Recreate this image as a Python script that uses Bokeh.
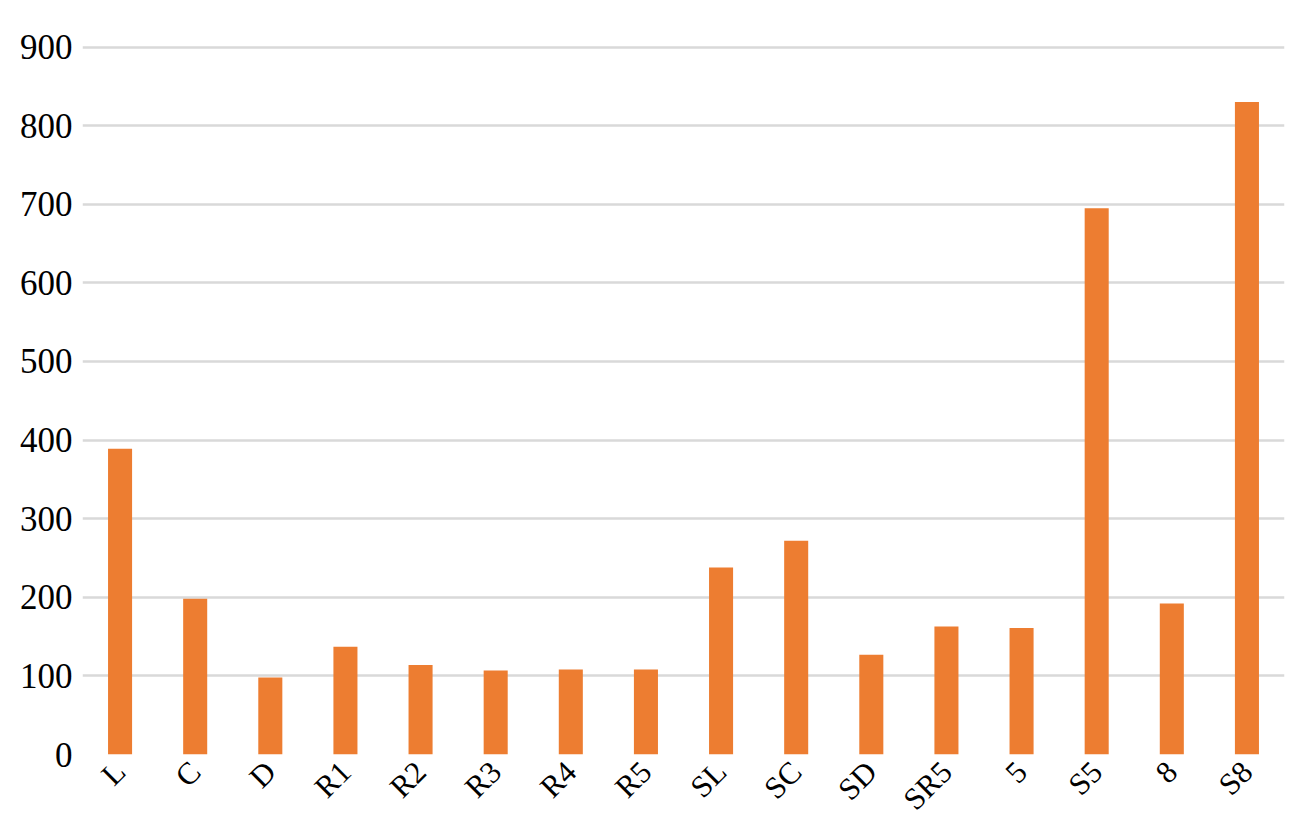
import math
from bokeh.plotting import figure
from bokeh.models import ColumnDataSource, FixedTicker, Range1d
from bokeh.embed import file_html
from bokeh.resources import INLINE

categories = ["L", "C", "D", "R1", "R2", "R3", "R4", "R5", "SL", "SC", "SD", "SR5", "5", "S5", "8", "S8"]
values = [389, 198, 98, 137, 114, 107, 108, 108, 238, 272, 127, 163, 161, 695, 192, 830]
y_ticks = [0, 100, 200, 300, 400, 500, 600, 700, 800, 900]

src = ColumnDataSource(dict(cat=categories, val=values))

p = figure(x_range=categories, y_range=Range1d(0, 902), width=1300, height=832,
           output_backend="svg", toolbar_location=None,
           min_border_top=45, min_border_right=16, min_border_left=82, min_border_bottom=78)
p.vbar(x="cat", top="val", width=0.32, source=src, fill_color="#ED7D31", line_color=None)

p.outline_line_color = None
p.xgrid.grid_line_color = None
p.ygrid.grid_line_color = "#d9d9d9"
p.ygrid.grid_line_width = 2.5
p.yaxis.ticker = FixedTicker(ticks=y_ticks)
p.yaxis.axis_line_color = None
p.yaxis.major_tick_line_color = None
p.yaxis.major_tick_out = 0
p.yaxis.minor_tick_line_color = None
p.yaxis.major_label_text_font = "Liberation Serif"
p.yaxis.major_label_text_font_size = "35px"
p.yaxis.major_label_text_color = "#000000"
p.yaxis.major_label_standoff = 10

p.xaxis.axis_line_color = None
p.xaxis.major_tick_line_color = None
p.xaxis.major_tick_out = 0
p.xaxis.major_label_orientation = math.pi / 4
p.xaxis.major_label_text_font = "Liberation Serif"
p.xaxis.major_label_text_font_size = "31px"
p.xaxis.major_label_text_color = "#000000"
p.xaxis.major_label_standoff = 12
p.x_range.range_padding = 0

open("out.html", "w").write(file_html(p, INLINE))
